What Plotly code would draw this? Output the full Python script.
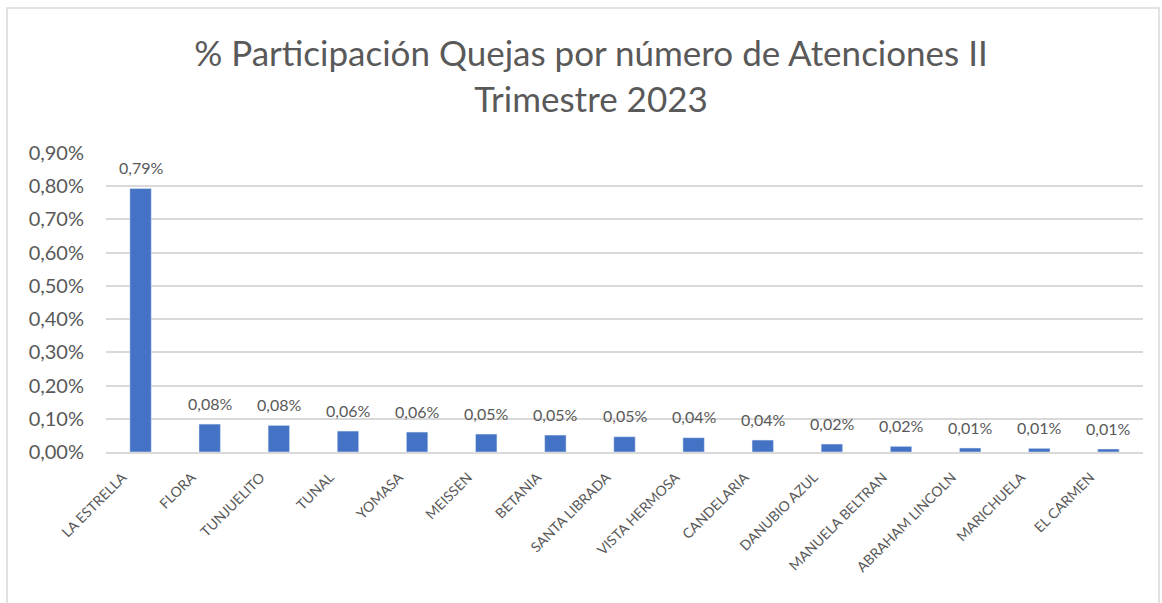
import plotly.graph_objects as go

categories = ["LA ESTRELLA", "FLORA", "TUNJUELITO", "TUNAL", "YOMASA", "MEISSEN",
              "BETANIA", "SANTA LIBRADA", "VISTA HERMOSA", "CANDELARIA",
              "DANUBIO AZUL", "MANUELA BELTRAN", "ABRAHAM LINCOLN", "MARICHUELA", "EL CARMEN"]
values = [0.00793, 0.00084, 0.00080, 0.00063, 0.00060, 0.00054, 0.00051, 0.00046,
          0.00043, 0.00036, 0.00024, 0.00017, 0.00012, 0.00011, 0.00009]
title_text = "% Participación Quejas por número de Atenciones II<br>Trimestre 2023"

FONT = "Lato"
TXT = "#595959"

fig = go.Figure()
fig.add_trace(go.Bar(x=categories, y=values, marker=dict(color="#4472C4"), width=0.31))

for c, v in zip(categories, values):
    fig.add_annotation(x=c, y=v, text=f"{v*100:.2f}%".replace(".", ","), showarrow=False,
                       yanchor="middle", yshift=21, font=dict(family=FONT, size=16, color=TXT))

fig.update_layout(
    width=1162, height=603,
    separators=",.",
    paper_bgcolor="white", plot_bgcolor="white",
    margin=dict(l=106, r=19, t=153, b=151),
    title=dict(text=title_text, x=591 / 1162, xref="container", xanchor="center",
               y=1 - 66 / 603, yanchor="middle",
               font=dict(family=FONT, size=35, color=TXT)),
    showlegend=False,
    bargap=0.7,
    xaxis=dict(type="category", tickangle=-45, showgrid=False, showline=True,
               linecolor="#D9D9D9", linewidth=1.5, ticks="",
               ticklabelstandoff=10, ticklabelshift=-18,
               tickfont=dict(family=FONT, size=14, color=TXT)),
    yaxis=dict(range=[0, 0.009], dtick=0.001, tickformat=".2%", showgrid=True,
               gridcolor="#D9D9D9", gridwidth=1.5, zeroline=False, ticks="",
               tickfont=dict(family=FONT, size=20, color=TXT), ticklabelstandoff=21),
    shapes=[dict(type="rect", xref="paper", yref="paper",
                 x0=(7 - 106) / 1037, x1=(1159 - 106) / 1037,
                 y0=(151 - 598) / 299, y1=(603 - 8 - 151) / 299,
                 line=dict(color="#D9D9D9", width=1.5))],
)

fig.write_html("out.html", config={"displayModeBar": False},
               post_script="document.body.style.margin='0';")
